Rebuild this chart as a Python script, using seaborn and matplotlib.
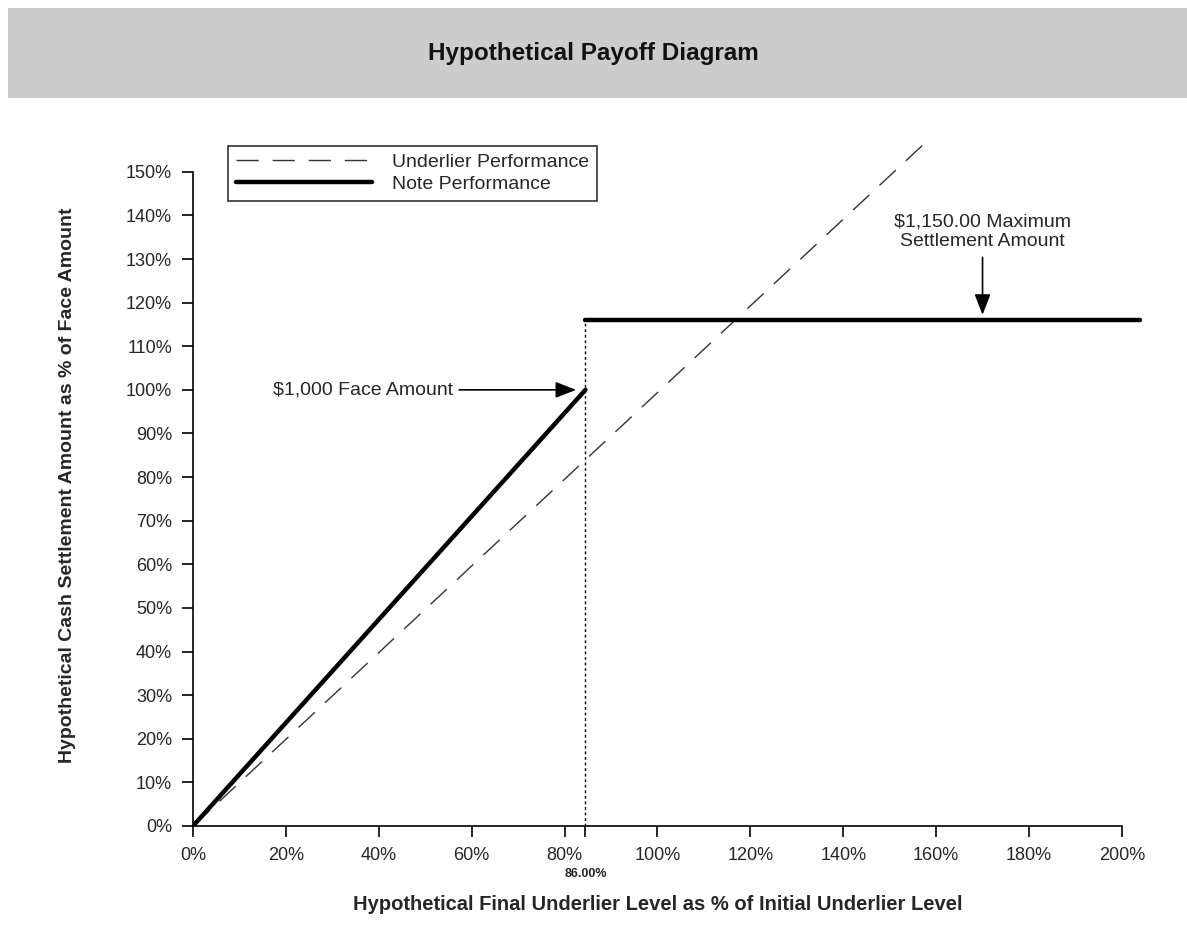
import numpy as np
import pandas as pd
import seaborn as sns
import matplotlib.pyplot as plt
from matplotlib.patches import Rectangle

# data (values in %)
underlier_x = [0, 158]
underlier_y = [0, 157]
note_x = [0, 84.5, 84.5, 204]
note_y = [0, 100, 116, 116]
break_x = 84.5
break_label = '86.00%'
cap_level = 116
x_ticks = list(range(0, 201, 20))
y_ticks = list(range(0, 151, 10))

sns.set_style('ticks')
plt.rcParams['font.family'] = ['Liberation Sans', 'DejaVu Sans']

fig = plt.figure(figsize=(11.87, 9.35), dpi=100)
fig.patches.append(Rectangle((0.007, 0.895), 0.993, 0.096, transform=fig.transFigure,
                             facecolor='#cccccc', edgecolor='none', zorder=0))
fig.text(0.5, 0.943, 'Hypothetical Payoff Diagram', ha='center', va='center',
         fontsize=17.5, fontweight='bold', color='#111111')

ax = fig.add_axes([0.1626, 0.1166, 0.806, 0.737])

und = pd.DataFrame({'x': underlier_x, 'y': underlier_y})
note = pd.DataFrame({'x': note_x, 'y': note_y})

sns.lineplot(data=und, x='x', y='y', ax=ax, color='#333333', lw=1,
             dashes=False, label='Underlier Performance', sort=False)
ax.lines[-1].set_dashes((16, 10))
sns.lineplot(data=note.iloc[:2], x='x', y='y', ax=ax, color='black', lw=3.2,
             label='Note Performance', sort=False)
sns.lineplot(data=note.iloc[2:], x='x', y='y', ax=ax, color='black', lw=3.2,
             sort=False, legend=False)

# dotted line at the break
ax.plot([break_x, break_x], [0, cap_level], color='black', lw=1, ls=(0, (2, 2)))

ax.set_xlim(0, 206)
ax.set_ylim(0, 158)
ax.set_xticks(x_ticks)
ax.set_xticklabels([f'{v}%' for v in x_ticks])
ax.set_yticks(y_ticks)
ax.set_yticklabels([f'{v}%' for v in y_ticks])
ax.set_xticks([break_x], minor=True)
ax.tick_params(axis='both', which='major', length=8, width=1.2, pad=7,
               labelsize=13, color='black', direction='out')
ax.tick_params(axis='x', which='minor', length=8, width=1.2, color='black')
ax.text(break_x, -0.07, break_label, transform=ax.get_xaxis_transform(),
        ha='center', va='center', fontsize=9, fontweight='bold')

sns.despine(ax=ax)
ax.spines['left'].set_bounds(0, 150)
ax.spines['bottom'].set_bounds(0, 200)
for s in ['left', 'bottom']:
    ax.spines[s].set_linewidth(1.2)
    ax.spines[s].set_color('black')

ax.set_xlabel('')
ax.set_ylabel('')
fig.text(0.554, 0.033, 'Hypothetical Final Underlier Level as % of Initial Underlier Level',
         ha='center', va='center', fontsize=14.5, fontweight='bold')
fig.text(0.057, 0.481, 'Hypothetical Cash Settlement Amount as % of Face Amount',
         ha='center', va='center', rotation=90, fontsize=14, fontweight='bold')

leg = ax.legend(loc='upper left', bbox_to_anchor=(0.037, 0.987), fontsize=14,
                handlelength=7, handletextpad=1.0, frameon=True, fancybox=False,
                borderpad=0.4, labelspacing=0.2, borderaxespad=0)
leg.get_frame().set_edgecolor('black')
leg.get_frame().set_linewidth(1.2)

ax.annotate('\\$1,000 Face Amount', xy=(82.5, 100), xytext=(56, 100),
            ha='right', va='center', fontsize=14,
            arrowprops=dict(arrowstyle='-|>,head_length=0.9,head_width=0.35',
                            color='black', lw=1.2, shrinkA=2, shrinkB=0))
ax.annotate('\\$1,150.00 Maximum\nSettlement Amount', xy=(170, cap_level + 1.2),
            xytext=(170, 136.2), ha='center', va='center', fontsize=14,
            linespacing=1.15,
            arrowprops=dict(arrowstyle='-|>,head_length=0.9,head_width=0.35',
                            color='black', lw=1.2, shrinkA=3, shrinkB=0))

fig.savefig('out.png', dpi=100)
